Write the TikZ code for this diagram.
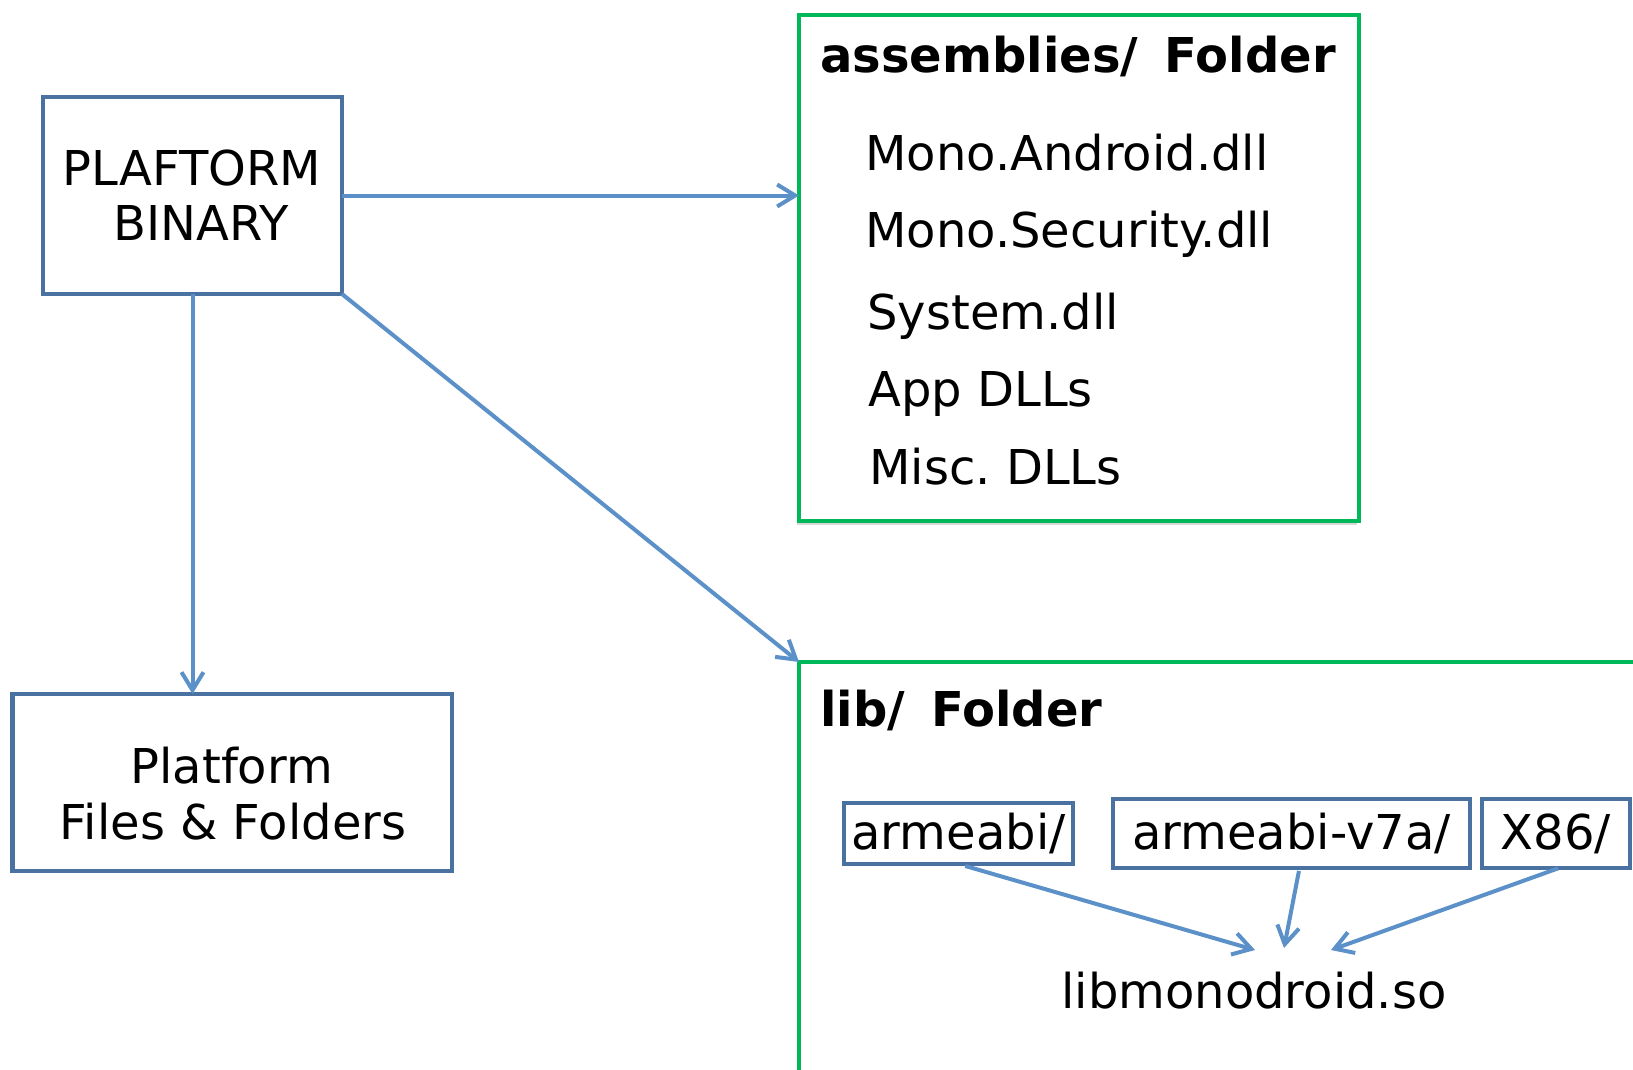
\documentclass[tikz,border=0pt]{standalone}
\usepackage{fontspec}
\setmainfont{DejaVu Sans}
\frenchspacing
\usetikzlibrary{arrows.meta,shadows,calc}
\definecolor{boxblue}{RGB}{74,114,160}
\definecolor{arrowblue}{RGB}{91,145,200}
\definecolor{fgreen}{RGB}{0,184,90}
\begin{document}
\begin{tikzpicture}[x=0.5pt,y=-0.5pt,
  txt/.style={font=\fontsize{24pt}{28pt}\selectfont, inner sep=0pt, anchor=base},
  item/.style={font=\fontsize{24pt}{28pt}\selectfont, inner sep=0pt, anchor=base west},
  ttl/.style={font=\fontsize{24pt}{28pt}\selectfont\bfseries, inner sep=0pt, anchor=base west},
  bluebox/.style={draw=boxblue, line width=2.4pt, fill=white, inner sep=0pt, outer sep=0pt,
    font=\fontsize{24pt}{28pt}\selectfont},
  folder/.style={draw=fgreen, line width=2.4pt, fill=white, inner sep=0pt, outer sep=0pt,
    drop shadow={shadow xshift=-1.2pt, shadow yshift=-1.8pt, opacity=0.3}},
  arr/.style={draw=arrowblue, line width=2pt, -{Straight Barb[length=9pt,width=11pt,line width=2pt]}},
]
\useasboundingbox (0,0) rectangle (1633,1070);
\clip (0,0) rectangle (1633,1070);
\fill[white] (0,0) rectangle (1633,1070);

% left boxes
\node[bluebox, minimum width=149.5pt, minimum height=98.5pt] (pb) at (192.5,195.5) {};
\node[txt] (pbt1) at (192,185) {PLAFTORM};
\node[txt] (pbt2) at (201,240) {BINARY};

\node[bluebox, minimum width=219.75pt, minimum height=88.5pt] (pf) at (232.25,782.5) {};
\node[txt] (pft1) at (231.7,783) {Platform};
\node[txt] (pft2) at (233,839) {Files \& Folders};

% assemblies folder
\node[folder, minimum width=280pt, minimum height=253pt] (asm) at (1079,268) {};
\node[ttl] (asmt) at (820,73) {assemblies/\hspace{0.55em}Folder};
\node[item] (a1) at (865,170) {Mono.Android.dll};
\node[item] (a2) at (865,247) {Mono.Security.dll};
\node[item] (a3) at (867,329) {System.dll};
\node[item] (a4) at (868,406) {App DLLs};
\node[item] (a5) at (869,484) {Misc. DLLs};

% lib folder
\node[folder, minimum width=500pt, minimum height=300pt, anchor=north west] (lib) at (799,662) {};
\node[ttl] (libt) at (820,726) {lib/\hspace{0.55em}Folder};

\node[bluebox, minimum width=114.5pt, minimum height=30.5pt] (ar) at (958.5,833.5) {armeabi/};
\node[bluebox, minimum width=178.5pt, minimum height=34.5pt] (v7) at (1291.5,833.5) {armeabi-v7a/};
\node[bluebox, minimum width=74pt, minimum height=34.5pt] (x86) at (1556,833.5) {X86/};

\node[item] (so) at (1061,1008) {libmonodroid.so};
\coordinate (ta) at (1255,950);
\coordinate (tb) at (1284,948);
\coordinate (tc) at (1331,950);

% connectors
\draw[arr] (pb.east) -- (pb.east -| asm.west);
\draw[arr] (pb.south) -- (pb.south |- pf.north);
\draw[arr] (pb.south east) -- (lib.north west);
\draw[arr, shorten <=3.5pt] (ar.south) -- (ta);
\draw[arr, shorten <=1.5pt] ([xshift=4pt]v7.south) -- (tb);
\draw[arr, shorten <=0.5pt] ([xshift=1.5pt]x86.south) -- (tc);
\end{tikzpicture}
\end{document}
